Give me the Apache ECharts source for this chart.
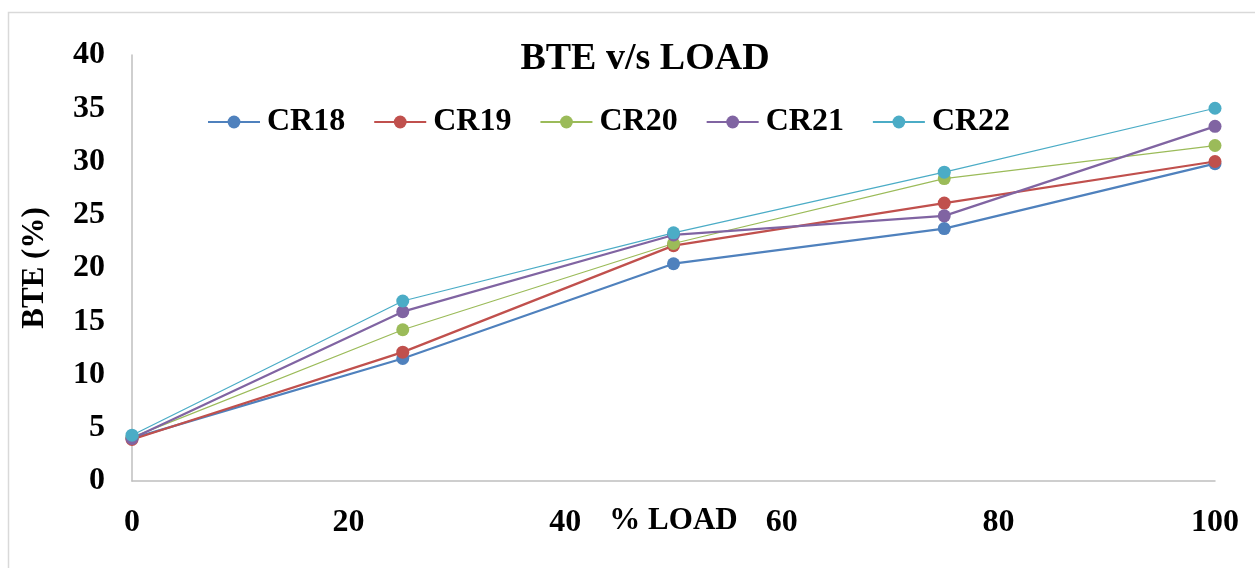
<!DOCTYPE html>
<html>
<head>
<meta charset="utf-8">
<script src="https://cdn.jsdelivr.net/npm/echarts@6/dist/echarts.min.js"></script>
<style>
  html, body { margin: 0; padding: 0; background: #fff; }
  #chart { width: 1255px; height: 568px; }
</style>
</head>
<body>
<div id="chart"></div>
<script>
// Engine load (%) and brake thermal efficiency for each compression ratio
const loads = [0, 25, 50, 75, 100];
const seriesNames = ['CR18', 'CR19', 'CR20', 'CR21', 'CR22'];
const cr18 = [4.0, 11.5, 20.4, 23.7, 29.8];
const cr19 = [3.9, 12.1, 22.1, 26.1, 30.0];
const cr20 = [4.1, 14.2, 22.3, 28.4, 31.5];
const cr21 = [4.0, 15.9, 23.1, 24.9, 33.3];
const cr22 = [4.3, 16.9, 23.3, 29.0, 35.0];
const yTicks = [0, 5, 10, 15, 20, 25, 30, 35, 40];
const xTicks = [0, 20, 40, 60, 80, 100];

const colors = ['#4F81BD', '#C0504D', '#9BBB59', '#8064A2', '#4BACC6'];
const widths = [2.25, 2.25, 1.25, 2.25, 1.25];
const values = [cr18, cr19, cr20, cr21, cr22];
const font = "'Liberation Serif', 'Times New Roman', serif";

const chart = echarts.init(document.getElementById('chart'));
chart.setOption({
  animation: false,
  backgroundColor: '#fff',
  graphic: [{
    type: 'rect',
    shape: { x: 8.5, y: 12.5, width: 1260, height: 570 },
    style: { fill: 'none', stroke: '#D9D9D9', lineWidth: 1.5 },
    silent: true
  }],
  title: {
    text: 'BTE v/s LOAD',
    left: 640,
    top: 35,
    textAlign: 'center',
    textStyle: { fontFamily: font, fontWeight: 'bold', fontSize: 38, color: '#000' }
  },
  legend: {
    left: 202,
    top: 101,
    itemWidth: 52,
    itemHeight: 16,
    itemGap: 28,
    textStyle: { fontFamily: font, fontWeight: 'bold', fontSize: 32, color: '#000', padding: [0, 0, 0, 2] },
    data: seriesNames
  },
  grid: { left: 132, right: 40, top: 55, bottom: 87, containLabel: false, outerBoundsMode: 'none' },
  xAxis: {
    type: 'value',
    min: xTicks[0],
    max: xTicks[xTicks.length - 1],
    interval: xTicks[1] - xTicks[0],
    name: '% LOAD',
    nameLocation: 'middle',
    nameGap: 24,
    nameMoveOverlap: false,
    nameTextStyle: { fontFamily: font, fontWeight: 'bold', fontSize: 31, color: '#000' },
    axisLine: { show: true, lineStyle: { color: '#BFBFBF', width: 1.5 } },
    axisTick: { show: false },
    splitLine: { show: false },
    axisLabel: { fontFamily: font, fontWeight: 'bold', fontSize: 32, color: '#000', margin: 26 }
  },
  yAxis: {
    type: 'value',
    min: yTicks[0],
    max: yTicks[yTicks.length - 1],
    interval: yTicks[1] - yTicks[0],
    name: 'BTE (%)',
    nameLocation: 'middle',
    nameGap: 82,
    nameMoveOverlap: false,
    nameTextStyle: { fontFamily: font, fontWeight: 'bold', fontSize: 31, color: '#000' },
    axisLine: { show: true, lineStyle: { color: '#BFBFBF', width: 1.5 } },
    axisTick: { show: false },
    splitLine: { show: false },
    axisLabel: { fontFamily: font, fontWeight: 'bold', fontSize: 32, color: '#000', margin: 27 }
  },
  series: seriesNames.map((name, i) => ({
    name: name,
    type: 'line',
    data: loads.map((x, j) => [x, values[i][j]]),
    symbol: 'circle',
    symbolSize: 13,
    color: colors[i],
    lineStyle: { color: colors[i], width: widths[i] },
    itemStyle: { color: colors[i] }
  }))
});
</script>
</body>
</html>
